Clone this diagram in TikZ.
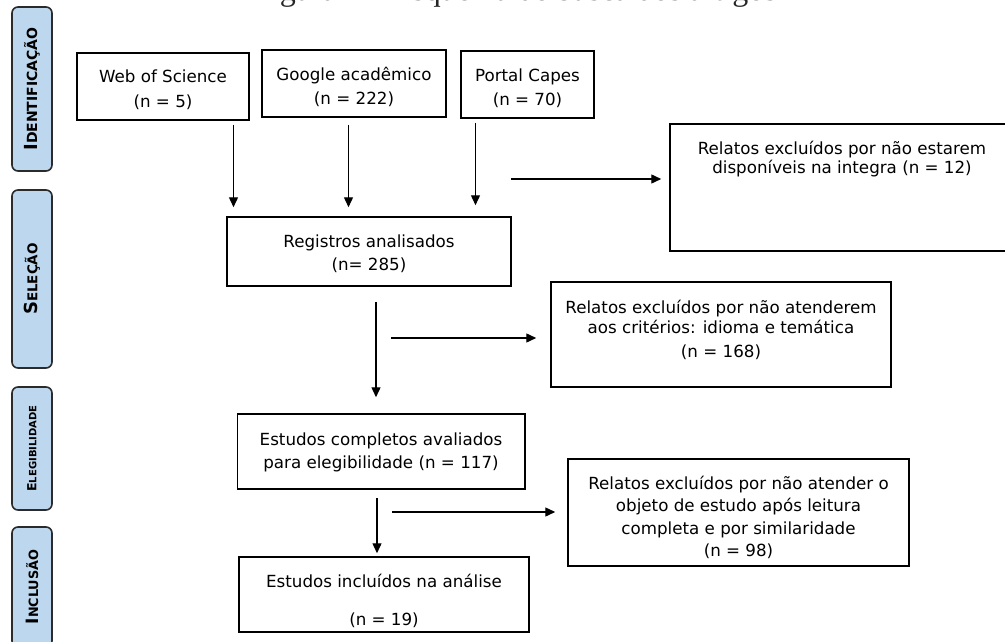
\documentclass[tikz,border=0pt]{standalone}
\usepackage{fontspec}
\setmainfont{DejaVu Sans}
\newfontfamily\titlefont{Liberation Serif}
\usetikzlibrary{arrows.meta,calc}
\definecolor{sideblue}{HTML}{BDD7EE}
\definecolor{sideline}{HTML}{2B2B2B}
\newcommand\sidecap[4]{{\fontsize{#3}{#3}\selectfont #1}{\fontsize{#4}{#4}\selectfont #2}}
\begin{document}
\begin{tikzpicture}[x=1pt,y=-1pt,
  box/.style={draw=black, line width=1.5pt, inner sep=0pt},
  lbl/.style={anchor=base, inner sep=0pt, font=\fontsize{16.7}{20}\selectfont},
  arr/.style={draw=black, line width=1.4pt, -{Triangle[length=10pt,width=9pt]}},
  side/.style={draw=sideline, line width=1.6pt, fill=sideblue, rounded corners=6pt,
               rotate=90, inner sep=0pt, font=\bfseries, minimum height=40pt}]
\useasboundingbox (0,0) rectangle (1005,642);
\clip (0,0) rectangle (1005,642);
\fill[white] (0,0) rectangle (1005,642);

% title (cut off at the top of the picture, as in the source)
\node[anchor=base, inner sep=0pt, font=\titlefont\fontsize{32}{32}\selectfont, text=black!85]
  (title) at (515,1) {Figura 1 – Esquema de busca dos artigos};

% stage sidebars
\node[side, minimum width=164pt] (s1) at (32,89)    {\sidecap{I}{DENTIFICAÇÃO}{18}{14}};
\node[side, minimum width=178pt] (s2) at (32,279)   {\sidecap{S}{ELEÇÃO}{18}{13.5}};
\node[side, minimum width=123pt] (s3) at (32,448.5) {\sidecap{E}{LEGIBILIDADE}{12.5}{10}};
\node[side, minimum width=120pt] (s4) at (32,587)   {\sidecap{I}{NCLUSÃO}{17}{12.8}};

% boxes
\node[box, minimum width=172pt, minimum height=67pt]  (web)  at (163,86.5)    {};
\node[box, minimum width=184pt, minimum height=67pt]  (goo)  at (354,83.5)    {};
\node[box, minimum width=133pt, minimum height=67pt]  (cap)  at (527.5,84.5)  {};
\node[box, minimum width=284pt, minimum height=69pt]  (reg)  at (369,251.5)   {};
\node[box, minimum width=344pt, minimum height=127pt] (ex1)  at (842,187.5)   {};
\node[box, minimum width=340pt, minimum height=105pt] (ex2)  at (721,334.5)   {};
\node[box, minimum width=287.5pt, minimum height=75pt](comp) at (381.25,451.5){};
\node[box, minimum width=341pt, minimum height=107pt] (ex3)  at (738.5,512.5) {};
\node[box, minimum width=290pt, minimum height=75pt]  (inc)  at (384,594.5)   {};

% texts
\node[lbl] (webA) at (163,83)  {Web of Science};
\node[lbl] (webB) at (163,107) {(n = 5)};
\node[lbl] (gooA) at (354,81)  {Google acadêmico};
\node[lbl] (gooB) at (354,105) {(n = 222)};
\node[lbl] (capA) at (527.5,82)  {Portal Capes};
\node[lbl] (capB) at (527.5,106) {(n = 70)};
\node[lbl] (regA) at (369,247) {Registros analisados};
\node[lbl] (regB) at (369,270) {(n= 285)};
\node[lbl] (ex1A) at (842,154)   {Relatos excluídos por não estarem};
\node[lbl] (ex1B) at (842,173.5) {disponíveis na integra (n = 12)};
\node[lbl] (ex2A) at (721,313)   {Relatos excluídos por não atenderem};
\node[lbl] (ex2B) at (721,333.5) {aos critérios: idioma e temática};
\node[lbl] (ex2C) at (721,357)   {(n = 168)};
\node[lbl] (compA) at (381,445) {Estudos completos avaliados};
\node[lbl] (compB) at (381,468) {para elegibilidade (n = 117)};
\node[lbl] (ex3A) at (738.5,489)   {Relatos excluídos por não atender o};
\node[lbl] (ex3B) at (738.5,511.5) {objeto de estudo após leitura};
\node[lbl] (ex3C) at (738.5,534)   {completa e por similaridade};
\node[lbl] (ex3D) at (738.5,556.5) {(n = 98)};
\node[lbl] (incA) at (384,587) {Estudos incluídos na análise};
\node[lbl] (incB) at (384,625) {(n = 19)};

% connector positions
\coordinate (xa) at (233.5,0);
\coordinate (xb) at (348.5,0);
\coordinate (xc) at (475.5,0);
\coordinate (xd) at (376,0);
\coordinate (xe) at (377,0);
\coordinate (h1) at (511,179);
\coordinate (h2) at (391,338);
\coordinate (h3) at (392,512);

% connectors
\draw[arr] ($(web.south -| xa)+(0,4)$)  -- ($(reg.north -| xa)+(0,-9)$);
\draw[arr] ($(goo.south -| xb)+(0,7)$)  -- ($(reg.north -| xb)+(0,-9)$);
\draw[arr] ($(cap.south -| xc)+(0,4)$)  -- ($(reg.north -| xc)+(0,-11)$);
\draw[arr] (h1) -- ($(ex1.west |- h1)+(-8,0)$);
\draw[arr] ($(reg.south -| xd)+(0,15)$) -- ($(comp.north -| xd)+(0,-16)$);
\draw[arr] (h2) -- ($(ex2.west |- h2)+(-14,0)$);
\draw[arr] ($(comp.south -| xe)+(0,8)$) -- ($(inc.north -| xe)+(0,-3)$);
\draw[arr] (h3) -- ($(ex3.west |- h3)+(-12,0)$);
\end{tikzpicture}
\end{document}
